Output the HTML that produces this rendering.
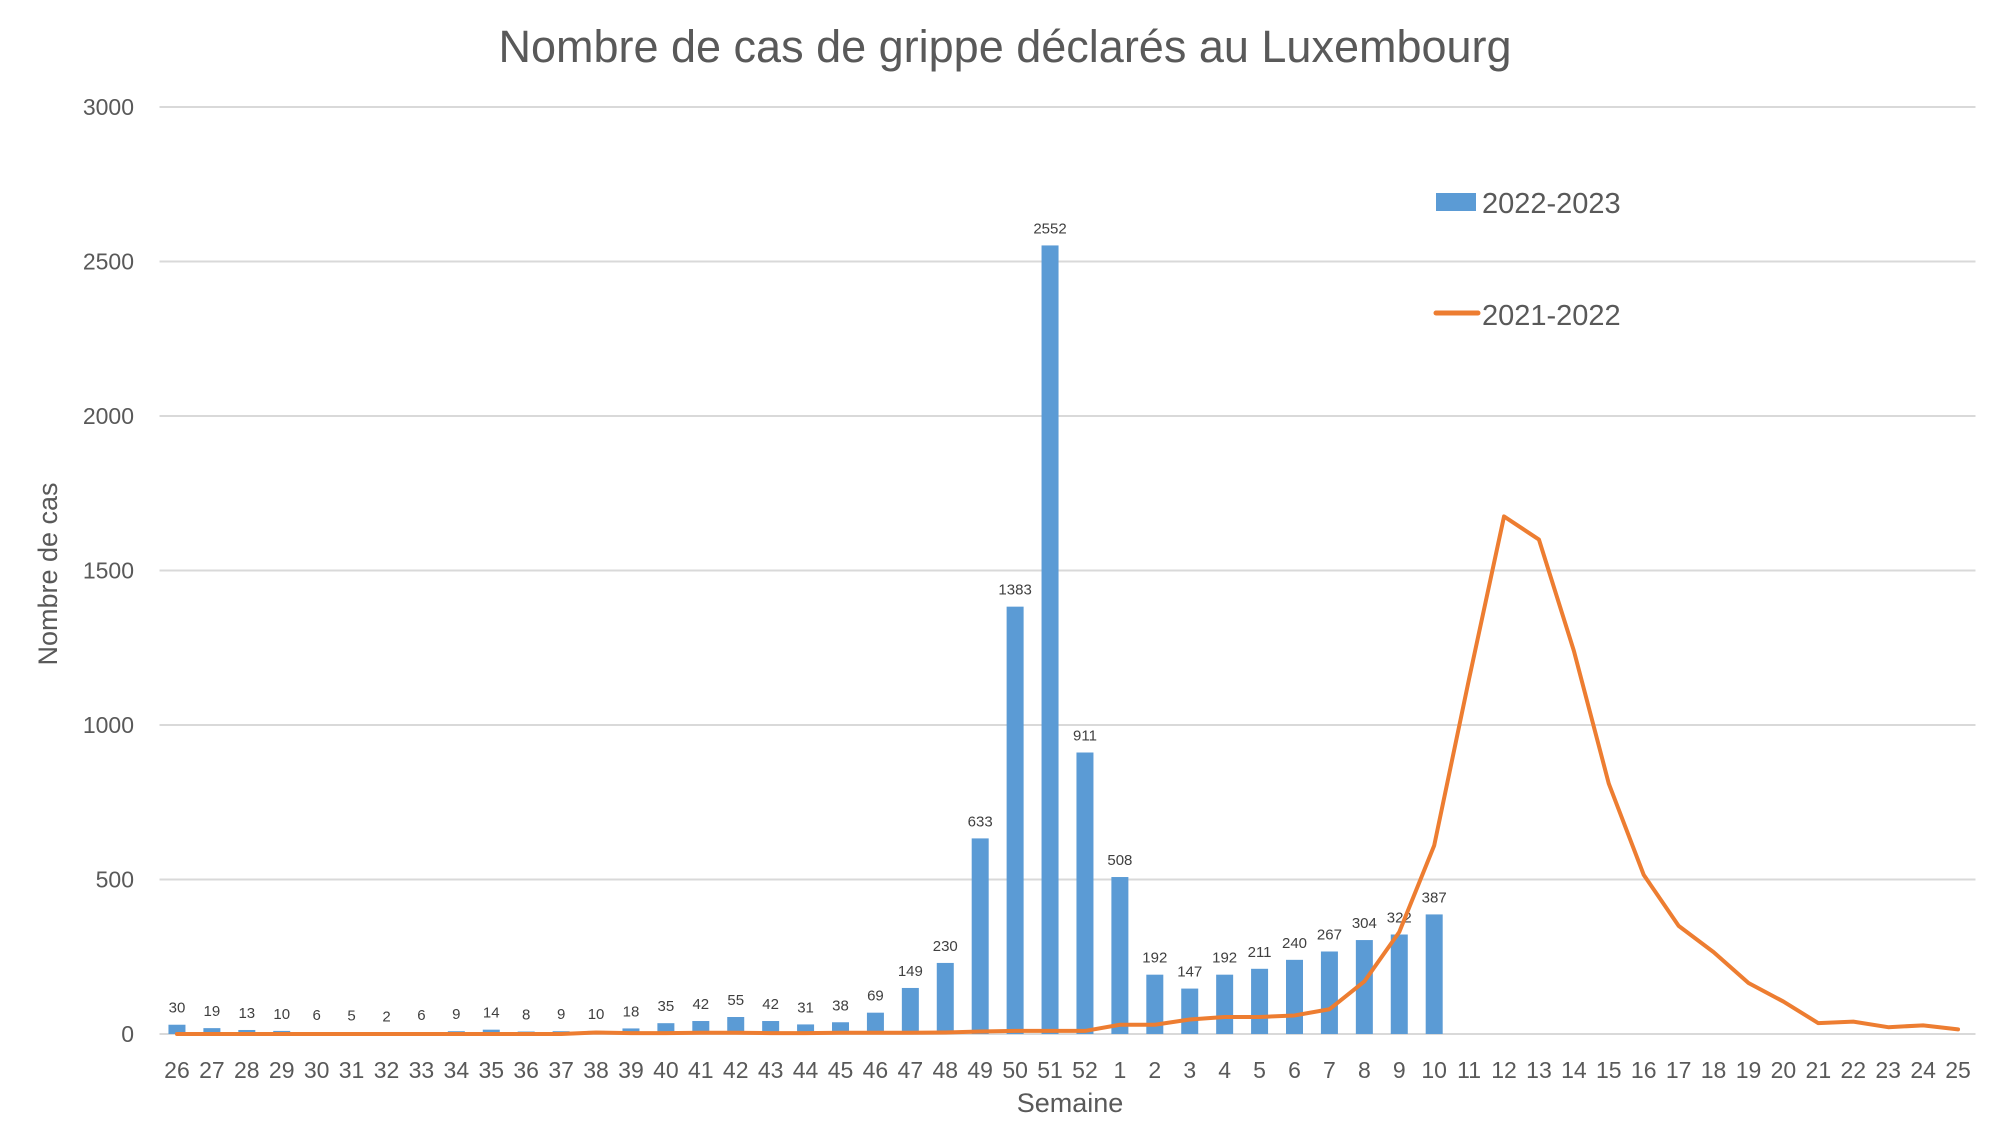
<!DOCTYPE html>
<html><head><meta charset="utf-8"><style>
body{margin:0;background:#fff}
svg text{font-family:"Liberation Sans",sans-serif;fill:#595959}
</style></head><body>
<svg id="chart" width="2000" height="1125" viewBox="0 0 2000 1125" xmlns="http://www.w3.org/2000/svg">
<rect width="2000" height="1125" fill="#fff"/>
<text x="1005" y="62" font-size="45" text-anchor="middle">Nombre de cas de grippe déclarés au Luxembourg</text>
<text transform="translate(57,574) rotate(-90)" font-size="27" text-anchor="middle">Nombre de cas</text>
<text x="1070" y="1112" font-size="27" text-anchor="middle">Semaine</text>
<g id="grid"></g><g id="bars"></g><g id="labels"></g><g id="line"></g><g id="xt"></g>
<g>
<rect x="1436" y="193" width="40" height="18" fill="#5b9bd5"/>
<text x="1482" y="213" font-size="29">2022-2023</text>
<line x1="1436" y1="313" x2="1478" y2="313" stroke="#ed7d31" stroke-width="5" stroke-linecap="round"/>
<text x="1482" y="325" font-size="29">2021-2022</text>
</g>
</svg>
<script>
const weeks=[26,27,28,29,30,31,32,33,34,35,36,37,38,39,40,41,42,43,44,45,46,47,48,49,50,51,52,1,2,3,4,5,6,7,8,9,10,11,12,13,14,15,16,17,18,19,20,21,22,23,24,25];
const cases2223=[30,19,13,10,6,5,2,6,9,14,8,9,10,18,35,42,55,42,31,38,69,149,230,633,1383,2552,911,508,192,147,192,211,240,267,304,322,387];
const cases2122=[0,0,0,0,0,0,0,0,0,0,0,0,5,3,3,4,4,3,3,4,4,4,5,8,10,10,10,30,30,47,55,55,60,80,170,330,610,1150,1675,1600,1240,810,515,350,265,165,105,35,40,22,28,15];
const yTicks=[0,500,1000,1500,2000,2500,3000];
const NS="http://www.w3.org/2000/svg";
const X0=159.5,X1=1975.5,Y0=1034,YT=107,YMAX=3000;
const step=(X1-X0)/weeks.length;
const xc=i=>X0+step*(i+0.5);
const y=v=>Y0-(Y0-YT)*v/YMAX;
function mk(tag,attrs,parent){const e=document.createElementNS(NS,tag);for(const k in attrs)e.setAttribute(k,attrs[k]);document.getElementById(parent).appendChild(e);return e;}
yTicks.forEach(t=>{
 const l=mk('line',{x1:X0,x2:X1,y1:y(t),y2:y(t),stroke:'#d9d9d9','stroke-width':2},'grid');
 
 
 const tx=mk('text',{x:134,y:y(t)+8,'font-size':23,'text-anchor':'end'},'grid');
 tx.textContent=t;
 
 
});
weeks.forEach((w,i)=>{
 const tx=mk('text',{x:xc(i),y:1078,'font-size':23,'text-anchor':'middle'},'xt');
 tx.textContent=w;
 
 
});
cases2223.forEach((v,i)=>{
 const b=mk('rect',{x:xc(i)-8.5,y:y(v),width:17,height:Y0-y(v),fill:'#5b9bd5'},'bars');
 
 
 const t=mk('text',{x:xc(i),y:y(v)-12,'font-size':15,'text-anchor':'middle',style:'fill:#404040'},'labels');
 t.textContent=v;
 
 
});
const pts=cases2122.map((v,i)=>xc(i)+','+y(v)).join(' ');
const pl=mk('polyline',{points:pts,fill:'none',stroke:'#ed7d31','stroke-width':4,'stroke-linejoin':'round','stroke-linecap':'round'},'line');


</script>
</body></html>
